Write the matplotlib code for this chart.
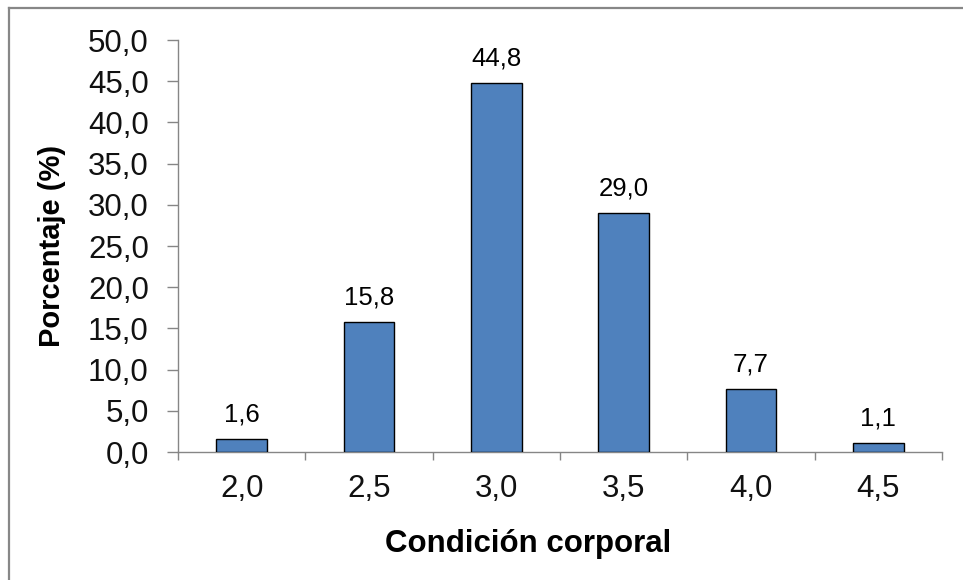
import numpy as np
import matplotlib
matplotlib.use('Agg')
from matplotlib import pyplot as plt
from matplotlib.lines import Line2D

# data to plot
categories = ['2,0', '2,5', '3,0', '3,5', '4,0', '4,5']
percentages = [1.6, 15.8, 44.8, 29.0, 7.7, 1.1]
y_ticks = [0, 5, 10, 15, 20, 25, 30, 35, 40, 45, 50]

plt.rcParams['font.family'] = ['Liberation Sans', 'DejaVu Sans']

W, H = 963, 580
fig = plt.figure(figsize=(W / 100, H / 100), dpi=100)
fig.patch.set_facecolor('white')

# plot area in pixel coordinates
x0, x1, y_top, y_bot = 178, 942, 40, 452
ax = fig.add_axes([x0 / W, (H - y_bot) / H, (x1 - x0) / W, (y_bot - y_top) / H])

index = np.arange(len(categories))
bars = ax.bar(index, percentages, 0.4, color='#4F81BD', edgecolor='black',
              linewidth=1.0, zorder=3)

for x, v in zip(index, percentages):
    ax.annotate(f'{v:.1f}'.replace('.', ','), (x, v), xytext=(0, 9),
                textcoords='offset points', ha='center', va='bottom',
                fontsize=18.5, color='black')

ax.set_xlim(-0.5, len(categories) - 0.5)
ax.set_ylim(0, 50)

ax.set_yticks(y_ticks)
ax.set_yticklabels([f'{t:.1f}'.replace('.', ',') for t in y_ticks])
ax.tick_params(axis='y', length=8, width=1, color='#868686', pad=13,
               labelsize=22.5, labelcolor='#111111')

ax.set_xticks(index)
ax.set_xticklabels(categories)
ax.tick_params(axis='x', which='major', length=0, pad=16, labelsize=22.5,
               labelcolor='#111111')
ax.set_xticks(np.arange(len(categories) + 1) - 0.5, minor=True)
ax.tick_params(axis='x', which='minor', length=6, width=1, color='#868686')

for side in ['top', 'right']:
    ax.spines[side].set_visible(False)
for side in ['left', 'bottom']:
    ax.spines[side].set_color('#868686')
    ax.spines[side].set_linewidth(1)

ax.set_xlabel('Condición corporal', fontsize=22.5, fontweight='bold')
ax.set_ylabel('Porcentaje (%)', fontsize=21, fontweight='bold')
ax.yaxis.set_label_coords((52 - x0) / (x1 - x0), 0.5)
ax.yaxis.label.set_va('center')
ax.xaxis.set_label_coords((528 - x0) / (x1 - x0), -(544 - y_bot) / (y_bot - y_top))
ax.xaxis.label.set_va('center')

# chart frame (top and left edges)
fig.add_artist(Line2D([9 / W, 1], [1 - 8 / H, 1 - 8 / H], color='#878787', lw=1.6,
                      transform=fig.transFigure))
fig.add_artist(Line2D([9 / W, 9 / W], [0, 1 - 8 / H], color='#878787', lw=1.6,
                      transform=fig.transFigure))

fig.savefig('out.png', dpi=100)
